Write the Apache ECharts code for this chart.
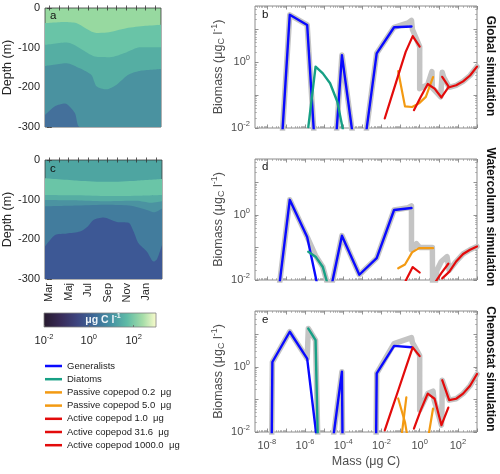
<!DOCTYPE html>
<html><head><meta charset="utf-8">
<script src="https://cdn.jsdelivr.net/npm/echarts@6/dist/echarts.min.js"></script>
<style>html,body{margin:0;padding:0;background:#fff}#c{width:500px;height:474px}</style>
</head><body><div id="c"></div>
<script>
// ================= DATA =================
// Contour panels (time in months since 1 March, depth in m)
const monthNames = ['Mar','Apr','Maj','Jun','Jul','Aug','Sep','Okt','Nov','Dec','Jan','Feb'];
const monthTickValues = [0,1,2,3,4,5,6,7,8,9,10,11];
const monthLabelValues = [0,2,4,6,8,10];
const depthTickValues = [0,-100,-200,-300];

// panel a (global) contour level boundaries
const tA1 = [-0.45, 1.6, 2.8, 4.9, 6.0, 8.0, 10.0, 11.62];
const dA1 = [-38, -35, -38, -63, -62, -51, -45, -42];
const tA2 = [-0.45, 1.8, 4.9, 6.3, 8.0, 9.4, 11.62];
const dA2 = [-93, -87, -123, -124, -112, -99, -99];
const tA3 = [-0.45, 1.8, 3.17, 4.38, 4.9, 5.94, 6.97, 8.17, 9.38, 11.62];
const dA3 = [-146, -139, -152, -169, -197, -205, -194, -169, -159, -154];
const tA4 = [-0.45, 0.59, 1.62, 2.66, 3.17, 11.62];
const dA4 = [-270, -248, -241, -265, -300, -300];

// panel c (watercolumn) contour level boundaries
const tC1 = [-0.45, 3, 6, 9, 11.62];
const dC1 = [-46, -52, -55, -52, -48];
const tC2 = [-0.45, 3, 6, 9, 11.62];
const dC2 = [-88, -89, -91, -90, -88];
const tC3 = [-0.45, 3, 6, 9, 10.5, 11.62];
const dC3 = [-101, -102, -104, -103, -108, -104];
const tC4 = [-0.45, 3, 6, 8.2, 9.2, 10.3, 10.8, 11.62];
const dC4 = [-117, -115, -113, -115, -120, -128, -132, -122];
const tC5 = [-0.45, 0.59, 1.8, 3.17, 3.93, 4.55, 5.59, 6.97, 8.18, 8.69, 9.2, 10.07, 10.76, 11.1, 11.62];
const dC5 = [-218, -189, -185, -180, -168, -151, -145, -156, -158, -180, -210, -231, -256, -250, -214];

// Colour bar tick labels (µg C l-1)
const cbarLabelValues = [0.01, 1, 100];

// Size spectra: mass (µg C) and biomass (µg C l-1)
const massTickValues = [1e-8,1e-7,1e-6,1e-5,1e-4,1e-3,1e-2,1e-1,1,10,100,1000];
const massLabelValues = [1e-8,1e-6,1e-4,1e-2,1,100];
const biomassTickValues = [0.01, 0.1, 1, 10];
const biomassLabelValues = [0.01, 1];

const genMass    = [2.4e-9, 1.95e-8, 1.58e-7, 1.29e-6, 1.05e-5, 8.51e-5, 6.92e-4, 5.62e-3, 4.57e-2, 0.372];
const genGlobal  = [1e-60, 1e-7, 28, 13.8, 5e-8, 1.66, 2e-4, 1.88, 11.7, 12.3];
const genWater   = [1e-60, 1.2e-4, 2.9, 0.21, 6.3e-4, 0.23, 0.0145, 0.047, 1.41, 1.62];
const genChemo   = [1e-60, 1.41, 12, 1.8, 6.3e-5, 0.71, 1e-60, 0.63, 4.4, 4.0];

const diaMass    = [1.48e-6, 3.55e-6, 8.51e-6, 2.04e-5, 4.90e-5, 1.17e-4];
const diaGlobal  = [0.0107, 0.74, 0.46, 0.23, 0.063, 0.005];
const diaWater   = [0.074, 0.052, 0.025, 0.004, 3e-4, 1e-5];
const diaChemo   = [15, 6.6, 1e-9, 1e-12, 1e-14, 1e-16];

const pas02Mass   = [0.00316, 0.0072, 0.0166, 0.038, 0.087, 0.2];
const pas02Global = [1e-6, 1e-6, 1e-6, 1e-5, 1e-4, 1e-3];
const pas02Water  = [1e-6, 1e-6, 1e-6, 1e-5, 1e-4, 1e-3];
const pas02Chemo  = [1e-8, 1e-8, 1e-8, 1e-5, 0.0022, 0.115];

const pas5Mass    = [0.075, 0.17, 0.4, 0.92, 2.1, 5.0];
const pas5Global  = [0.537, 0.0457, 0.0437, 0.0562, 0.089, 0.355];
const pas5Water   = [0.0229, 0.030, 0.0708, 0.095, 0.095, 0.095];
const pas5Chemo   = [0.107, 0.02, 0.001, 1e-5, 0.0025, 0.0525];

const act1Mass    = [0.0148, 0.0344, 0.0798, 0.185, 0.431, 1.0];
const act1Global  = [0.0195, 0.093, 0.447, 2.09, 6.3, 3.0];
const act1Water   = [1e-6, 1e-5, 3.2e-4, 0.0095, 0.025, 0.017];
const act1Chemo   = [0.0112, 0.049, 0.209, 0.91, 3.98, 2.14];

const act31Mass   = [0.5, 1.15, 2.63, 6.03, 13.8, 31.6];
const act31Global = [0.035, 0.089, 0.219, 0.158, 0.085, 0.174];
const act31Water  = [1e-6, 1e-5, 3.2e-4, 0.0079, 0.0166, 0.0316];
const act31Chemo  = [0.0126, 0.048, 0.151, 0.105, 0.0162, 0.056];

const act1000Mass   = [15.1, 35, 80.9, 187, 432, 1000];
const act1000Global = [0.363, 0.174, 0.2, 0.263, 0.398, 0.741];
const act1000Water  = [0.0112, 0.0178, 0.037, 0.063, 0.085, 0.107];
const act1000Chemo  = [0.389, 0.095, 0.105, 0.151, 0.263, 0.603];

// total biomass spectra (grey)
const totMassGlobal = [2.4e-9, 1.95e-8, 1.58e-7, 1.29e-6, 1.05e-5, 8.51e-5, 6.92e-4, 5.62e-3, 4.57e-2, 0.251, 0.372, 0.417, 1.0, 1.0, 2.63, 4.37, 4.57, 12.6, 14.5, 15.1, 17.8, 35, 80.9, 187, 432, 1000];
const totGlobal     = [1e-60, 1e-7, 28, 13.8, 5e-8, 1.66, 2e-4, 1.88, 11.7, 15.8, 19, 10, 3.0, 0.158, 0.209, 0.525, 0.166, 0.089, 0.089, 0.5, 0.355, 0.174, 0.2, 0.263, 0.398, 0.741];
const totMassWater  = [2.4e-9, 1.95e-8, 1.58e-7, 1.29e-6, 3.55e-6, 8.51e-6, 2.04e-5, 8.51e-5, 6.92e-4, 5.62e-3, 4.57e-2, 0.251, 0.372, 0.372, 0.68, 1.0, 4.6, 4.8, 8.0, 13.5, 27, 35, 80.9, 187, 432, 1000];
const totWater      = [1e-60, 1.2e-4, 2.9, 0.21, 0.056, 0.025, 0.004, 0.23, 0.0145, 0.047, 1.41, 1.66, 1.9, 0.085, 0.13, 0.1, 0.1, 0.002, 0.02, 0.037, 0.052, 0.02, 0.037, 0.063, 0.085, 0.107];
const totMassChemo  = [2.4e-9, 1.95e-8, 1.58e-7, 1.29e-6, 1.48e-6, 3.55e-6, 8.51e-6, 1.05e-5, 8.51e-5, 6.92e-4, 5.62e-3, 4.57e-2, 0.372, 0.417, 1.0, 1.0, 2.63, 5.0, 5.6, 13.8, 14.5, 15.1, 35, 80.9, 187, 432, 1000];
const totChemo      = [1e-60, 1.41, 12, 1.8, 15, 6.6, 1e-9, 6.3e-5, 0.71, 1e-60, 0.63, 5.2, 7.9, 5.6, 2.24, 0.047, 0.151, 0.18, 0.1, 0.0162, 0.03, 0.389, 0.095, 0.105, 0.151, 0.263, 0.603];

const legendNames = ['Generalists','Diatoms','Passive copepod 0.2  μg','Passive copepod 5.0  μg','Active copepod 1.0  μg','Active copepod 31.6  μg','Active copepod 1000.0  μg'];
const panelTitles = ['Global simulation','Watercolumn simulation','Chemostat simulation'];

// ================= CHART =================
const FONT = '"Liberation Sans", Arial, Helvetica, sans-serif';
const XMIN = 2.4e-9, XMAX = 1000, YMIN = 0.01, YMAX = 52;
const TMIN = -0.45, TMAX = 11.62;
const C_GEN = '#0a0aff', C_DIA = '#17a085', C_PAS = '#f39a12', C_ACT = '#e30b0b', C_TOT = '#c4c4c4';

function minorValues(lo, hi) {
  const out = [];
  for (let d = Math.floor(Math.log10(lo)); d <= Math.ceil(Math.log10(hi)); d++)
    for (let m = 2; m <= 9; m++) { const v = m * Math.pow(10, d); if (v > lo && v < hi) out.push(v); }
  return out;
}
const massMinor = minorValues(XMIN, XMAX);
const biomassMinor = minorValues(YMIN, YMAX);

function powRich(color, base, sup) {
  return { b: {fontSize: base, color: color, fontFamily: FONT},
           s: {fontSize: sup, color: color, fontFamily: FONT, padding: [0,0,8,0]} };
}
function powLabel(v) { const e = Math.round(Math.log10(v)); return '{b|10}{s|' + e + '}'; }

const option = {
  animation: false,
  textStyle: {fontFamily: FONT},
  grid: [], xAxis: [], yAxis: [], series: [], graphic: []
};

const tickMajor = (len, color) => ({show: true, inside: true, length: len, lineStyle: {color: color, width: 0.8}});

function addLogGrid(box, showX) {
  const gi = option.grid.length;
  option.grid.push({left: box.l, top: box.t, width: box.w, height: box.h, show: true,
    borderColor: '#8c8c8c', borderWidth: 1, backgroundColor: '#fff', z: 0});
  const xi = option.xAxis.length;
  ['bottom','top'].forEach(pos => {
    option.xAxis.push({type: 'log', gridIndex: gi, position: pos, min: XMIN, max: XMAX,
      axisLine: {show: false}, splitLine: {show: false},
      axisTick: Object.assign({customValues: massTickValues}, tickMajor(3.5, '#777')),
      axisLabel: (pos === 'bottom' && showX) ? {show: true, customValues: massLabelValues, formatter: powLabel,
        rich: powRich('#4d4d4d', 11, 7.5), margin: 6} : {show: false},
      name: (pos === 'bottom' && showX) ? 'Mass (μg C)' : '', nameLocation: 'middle', nameGap: 23,
      nameTextStyle: {fontSize: 12.5, color: '#4d4d4d', fontFamily: FONT}
    });
    option.xAxis.push({type: 'log', gridIndex: gi, position: pos, min: XMIN, max: XMAX,
      axisLine: {show: false}, splitLine: {show: false}, axisLabel: {show: false},
      axisTick: Object.assign({customValues: massMinor}, tickMajor(1.8, '#999'))});
  });
  const yi = option.yAxis.length;
  ['left','right'].forEach(pos => {
    option.yAxis.push({type: 'log', gridIndex: gi, position: pos, min: YMIN, max: YMAX,
      axisLine: {show: false}, splitLine: {show: false},
      axisTick: Object.assign({customValues: biomassTickValues}, tickMajor(3.5, '#777')),
      axisLabel: pos === 'left' ? {show: true, customValues: biomassLabelValues, formatter: powLabel,
        rich: powRich('#4d4d4d', 11, 7.5), margin: 5} : {show: false},
      name: pos === 'left' ? '{n|Biomass (μg}{c|C}{n| l}{u|-1}{n|)}' : '',
      nameLocation: 'middle', nameGap: 28, nameRotate: 90,
      nameTextStyle: {color: '#4d4d4d', rich: {
        n: {fontSize: 12.5, color: '#4d4d4d', fontFamily: FONT},
        c: {fontSize: 9, color: '#4d4d4d', fontFamily: FONT, padding: [7,0,0,0]},
        u: {fontSize: 9, color: '#4d4d4d', fontFamily: FONT, padding: [0,0,8,0]}}}
    });
    option.yAxis.push({type: 'log', gridIndex: gi, position: pos, min: YMIN, max: YMAX,
      axisLine: {show: false}, splitLine: {show: false}, axisLabel: {show: false},
      axisTick: Object.assign({customValues: biomassMinor}, tickMajor(1.8, '#999'))});
  });
  return {xi, yi};
}

function addContourGrid(box, bg, showX) {
  const gi = option.grid.length;
  option.grid.push({left: box.l, top: box.t, width: box.w, height: box.h, show: true,
    borderColor: '#3a3a3a', borderWidth: 0.8, backgroundColor: bg, z: 0});
  const xi = option.xAxis.length;
  ['bottom','top'].forEach(pos => {
    option.xAxis.push({type: 'value', gridIndex: gi, position: pos, min: TMIN, max: TMAX,
      axisLine: {show: false}, splitLine: {show: false},
      axisTick: Object.assign({customValues: monthTickValues}, tickMajor(2.5, '#333')),
      axisLabel: (pos === 'bottom' && showX) ? {show: true, customValues: monthLabelValues, rotate: 90, margin: 4,
        formatter: v => monthNames[Math.round(v)], fontSize: 11, color: '#262626'} : {show: false}
    });
  });
  const yi = option.yAxis.length;
  ['left','right'].forEach(pos => {
    option.yAxis.push({type: 'value', gridIndex: gi, position: pos, min: -300, max: 0,
      axisLine: {show: false}, splitLine: {show: false},
      axisTick: Object.assign({customValues: depthTickValues}, tickMajor(2.5, '#333')),
      axisLabel: pos === 'left' ? {show: true, customValues: depthTickValues, fontSize: 11, color: '#262626', margin: 5} : {show: false},
      name: pos === 'left' ? 'Depth (m)' : '', nameLocation: 'middle', nameGap: 28, nameRotate: 90,
      nameTextStyle: {fontSize: 12.5, color: '#262626'}
    });
  });
  return {xi, yi};
}

function contour(ax, t, d, color) {
  option.series.push({type: 'line', xAxisIndex: ax.xi, yAxisIndex: ax.yi, silent: true,
    data: t.map((v, i) => [v, d[i]]), symbol: 'none', smooth: 0.25,
    lineStyle: {width: 0}, areaStyle: {color: color, opacity: 1, origin: 'start'}, z: 1});
}

function spectrum(ax, name, mass, vals, color, width, z) {
  option.series.push({type: 'line', name: name, xAxisIndex: ax.xi, yAxisIndex: ax.yi, silent: true,
    data: mass.map((m, i) => [m, vals[i]]), symbol: 'none', clip: true,
    itemStyle: {color: color},
    lineStyle: {color: color, width: width, join: 'round', cap: 'round'}, z: z});
}

// contour grids
const gA = addContourGrid({l: 45, t: 8, w: 116, h: 119}, '#97d9a0', false);
contour(gA, tA1, dA1, '#69c4a7');
contour(gA, tA2, dA2, '#55aea3');
contour(gA, tA3, dA3, '#4a92a0');
contour(gA, tA4, dA4, '#44709b');

const gC = addContourGrid({l: 45, t: 160, w: 117, h: 119}, '#4ea5a1', true);
contour(gC, tC1, dC1, '#6ac5a7');
contour(gC, tC2, dC2, '#56ada3');
contour(gC, tC3, dC3, '#4b93a1');
contour(gC, tC4, dC4, '#427c9d');
contour(gC, tC5, dC5, '#3d5895');

// spectra grids
const panels = [
  {box: {l: 255, t: 6, w: 222, h: 122}, showX: false, tm: totMassGlobal, tv: totGlobal,
   gen: genGlobal, dia: diaGlobal, p02: pas02Global, p5: pas5Global, a1: act1Global, a31: act31Global, a1000: act1000Global},
  {box: {l: 255, t: 159, w: 222, h: 121}, showX: false, tm: totMassWater, tv: totWater,
   gen: genWater, dia: diaWater, p02: pas02Water, p5: pas5Water, a1: act1Water, a31: act31Water, a1000: act1000Water},
  {box: {l: 255, t: 311, w: 222, h: 121}, showX: true, tm: totMassChemo, tv: totChemo,
   gen: genChemo, dia: diaChemo, p02: pas02Chemo, p5: pas5Chemo, a1: act1Chemo, a31: act31Chemo, a1000: act1000Chemo}
];
panels.forEach(p => {
  const ax = addLogGrid(p.box, p.showX);
  spectrum(ax, 'Total', p.tm, p.tv, C_TOT, 5.5, 2);
  spectrum(ax, legendNames[0], genMass, p.gen, C_GEN, 2.4, 3);
  spectrum(ax, legendNames[1], diaMass, p.dia, C_DIA, 2.4, 4);
  spectrum(ax, legendNames[2], pas02Mass, p.p02, C_PAS, 2.2, 5);
  spectrum(ax, legendNames[3], pas5Mass, p.p5, C_PAS, 2.2, 5);
  spectrum(ax, legendNames[4], act1Mass, p.a1, C_ACT, 2.2, 6);
  spectrum(ax, legendNames[5], act31Mass, p.a31, C_ACT, 2.2, 6);
  spectrum(ax, legendNames[6], act1000Mass, p.a1000, C_ACT, 2.2, 6);
});

// colour bar (grid with gradient + log axis for labels)
const cbGrid = option.grid.length;
option.grid.push({left: 44, top: 313, width: 112, height: 14, show: true, borderColor: '#808080', borderWidth: 0.8,
  backgroundColor: new echarts.graphic.LinearGradient(0, 0, 1, 0, [
    {offset: 0, color: '#271a2e'}, {offset: 0.15, color: '#382b58'}, {offset: 0.3, color: '#3e4580'},
    {offset: 0.45, color: '#3d6a98'}, {offset: 0.6, color: '#4592a3'}, {offset: 0.74, color: '#5fbba6'},
    {offset: 0.88, color: '#a6dda8'}, {offset: 1, color: '#fbfccd'}])});
option.xAxis.push({type: 'log', gridIndex: cbGrid, min: 0.01, max: 1000, position: 'bottom',
  axisLine: {show: false}, splitLine: {show: false},
  axisTick: Object.assign({customValues: cbarLabelValues}, tickMajor(2, '#666')),
  axisLabel: {show: true, customValues: cbarLabelValues, formatter: powLabel, rich: powRich('#262626', 11, 7.5), margin: 6}});
option.yAxis.push({type: 'value', gridIndex: cbGrid, show: false, min: 0, max: 1});

// legend
option.legend = {orient: 'vertical', left: 40, top: 355, itemWidth: 17, itemHeight: 2.5, itemGap: 1.2,
  icon: 'rect', selectedMode: false, data: legendNames,
  textStyle: {fontSize: 9.5, color: '#1a1a1a', lineHeight: 12, fontFamily: FONT}};

// texts
const letter = (txt, x, y) => ({type: 'text', x: x, y: y, silent: true,
  style: {text: txt, fontSize: 11.5, fill: '#111', font: '11.5px ' + FONT, textVerticalAlign: 'top', verticalAlign: 'top'}});
option.graphic.push(letter('a', 50, 10), letter('b', 262, 9), letter('c', 50, 163), letter('d', 262, 161), letter('e', 262, 314));
const titleY = [66, 217, 369];
panelTitles.forEach((t, i) => option.graphic.push({type: 'text', x: 490, y: titleY[i], rotation: -Math.PI / 2, silent: true,
  style: {text: t, fill: '#111', font: 'bold 12px ' + FONT, textAlign: 'center', align: 'center',
    textVerticalAlign: 'middle', verticalAlign: 'middle'}}));
option.graphic.push({type: 'text', x: 103, y: 320, silent: true,
  style: {text: '{n|μg C l}{u|-1}', align: 'center', textAlign: 'center', verticalAlign: 'middle', textVerticalAlign: 'middle',
    rich: {n: {fontSize: 10.5, fontWeight: 'bold', fill: '#eef4f8', color: '#eef4f8', fontFamily: FONT},
           u: {fontSize: 7, fontWeight: 'bold', fill: '#eef4f8', color: '#eef4f8', fontFamily: FONT, padding: [0,0,7,0]}}}});

const chart = echarts.init(document.getElementById('c'), null, {renderer: 'canvas', width: 500, height: 474});
chart.setOption(option);
</script></body></html>
